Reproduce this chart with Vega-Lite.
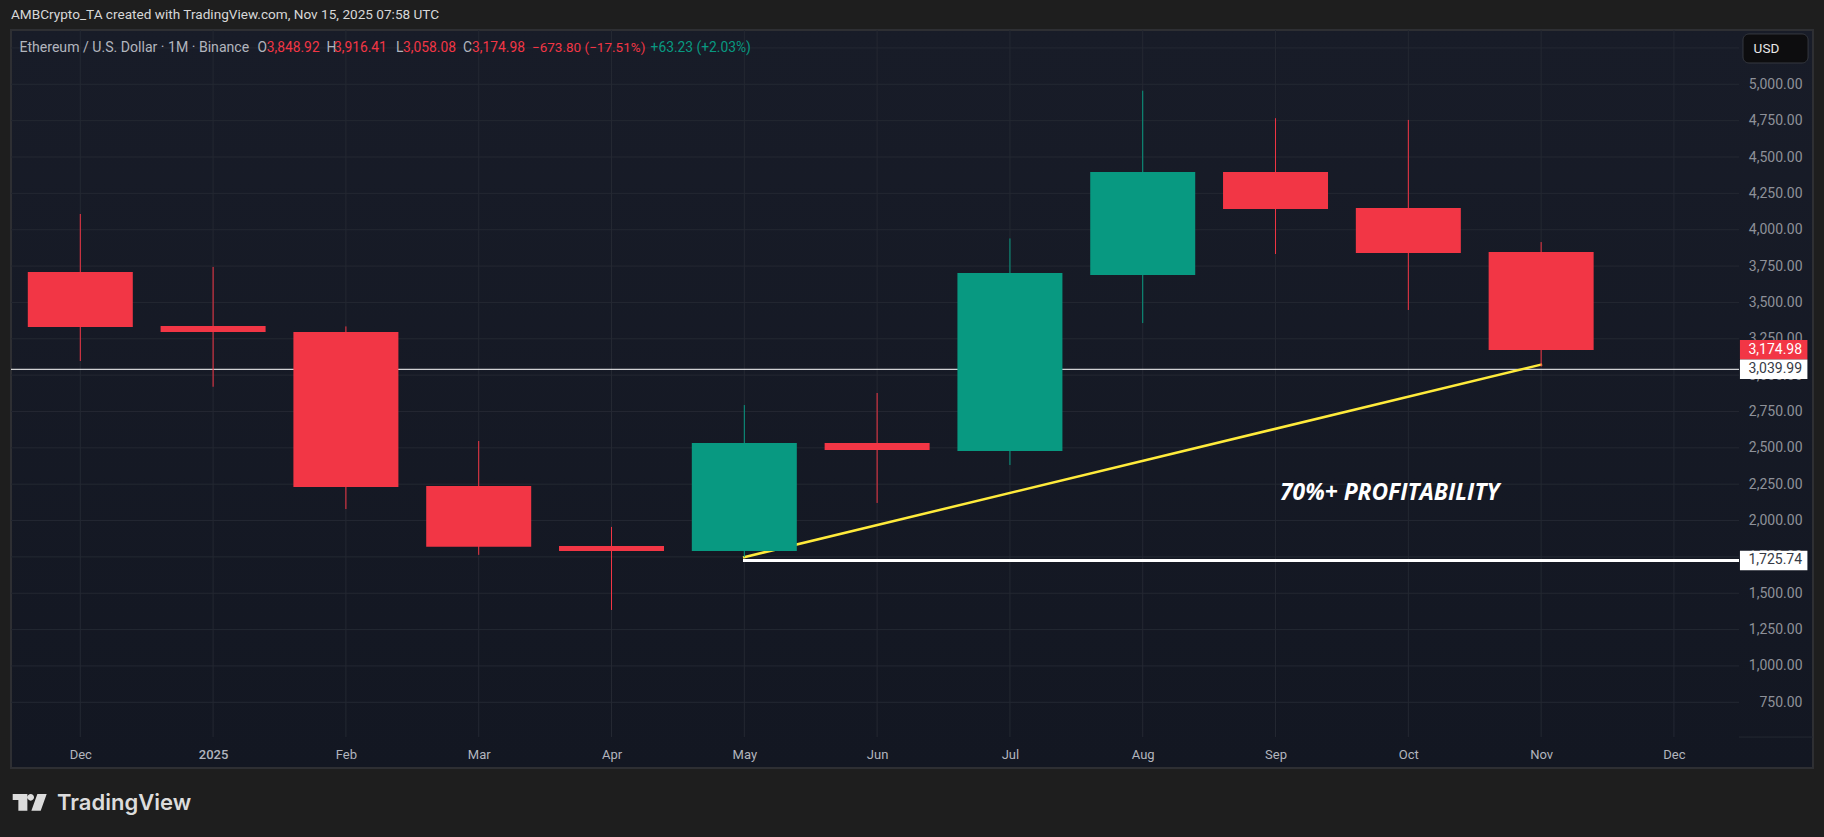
{
  "$schema": "https://vega.github.io/schema/vega-lite/v6.json",
  "width": 1802,
  "height": 738,
  "autosize": "none",
  "padding": {"left": 11, "top": 30, "right": 11, "bottom": 69},
  "background": "#1e1e1e",
  "title": {
    "text": "AMBCrypto_TA created with TradingView.com, Nov 15, 2025 07:58 UTC",
    "anchor": "start",
    "frame": "group",
    "offset": 8,
    "font": "Roboto",
    "fontSize": 13.6,
    "fontWeight": "normal",
    "color": "#d8d8d8"
  },
  "config": {
    "view": {
      "stroke": "#2e2f33",
      "strokeWidth": 2,
      "fill": {
        "gradient": "linear",
        "x1": 0, "y1": 0, "x2": 0, "y2": 1,
        "stops": [
          {"offset": 0, "color": "#181c28"},
          {"offset": 1, "color": "#131722"}
        ]
      }
    },
    "axis": {"grid": false, "domain": false, "ticks": false, "title": null, "labelOverlap": false, "labelFlush": false, "labelBound": false},
    "text": {"font": "Roboto", "fontSize": 13.8, "align": "left", "baseline": "middle"}
  },
  "datasets": {
    "candles": [
      {"i": 0, "month": "Dec 2024", "open": 3709, "high": 4108, "low": 3097, "close": 3331, "dir": "down"},
      {"i": 1, "month": "Jan 2025", "open": 3338, "high": 3744, "low": 2920, "close": 3297, "dir": "down"},
      {"i": 2, "month": "Feb 2025", "open": 3297, "high": 3335, "low": 2079, "close": 2231, "dir": "down"},
      {"i": 3, "month": "Mar 2025", "open": 2238, "high": 2547, "low": 1764, "close": 1819, "dir": "down"},
      {"i": 4, "month": "Apr 2025", "open": 1825, "high": 1956, "low": 1385, "close": 1790, "dir": "down"},
      {"i": 5, "month": "May 2025", "open": 1790, "high": 2794, "low": 1748, "close": 2533, "dir": "up"},
      {"i": 6, "month": "Jun 2025", "open": 2533, "high": 2877, "low": 2121, "close": 2485, "dir": "down"},
      {"i": 7, "month": "Jul 2025", "open": 2478, "high": 3940, "low": 2382, "close": 3702, "dir": "up"},
      {"i": 8, "month": "Aug 2025", "open": 3689, "high": 4956, "low": 3358, "close": 4397, "dir": "up"},
      {"i": 9, "month": "Sep 2025", "open": 4397, "high": 4767, "low": 3833, "close": 4142, "dir": "down"},
      {"i": 10, "month": "Oct 2025", "open": 4149, "high": 4755, "low": 3448, "close": 3840, "dir": "down"},
      {"i": 11, "month": "Nov 2025", "open": 3847, "high": 3915, "low": 3058, "close": 3173, "dir": "down"}
    ],
    "grid_h": [
      {"price": 750}, {"price": 1000}, {"price": 1250}, {"price": 1500}, {"price": 1750},
      {"price": 2000}, {"price": 2250}, {"price": 2500}, {"price": 2750}, {"price": 3000},
      {"price": 3250}, {"price": 3500}, {"price": 3750}, {"price": 4000}, {"price": 4250},
      {"price": 4500}, {"price": 4750}, {"price": 5000}, {"price": 5250}
    ],
    "grid_v": [
      {"i": 0}, {"i": 1}, {"i": 2}, {"i": 3}, {"i": 4}, {"i": 5}, {"i": 6},
      {"i": 7}, {"i": 8}, {"i": 9}, {"i": 10}, {"i": 11}, {"i": 12}
    ],
    "trend": [
      {"i": 4.99, "price": 1746},
      {"i": 11.007, "price": 3074}
    ],
    "tags": [
      {"price": 3174.98, "label": "3,174.98", "kind": "last"},
      {"price": 3039.99, "label": "3,039.99", "kind": "level"},
      {"price": 1725.74, "label": "1,725.74", "kind": "level"}
    ]
  },
  "data": {"name": "candles"},
  "layer": [
    {
      "data": {"name": "grid_h"},
      "mark": {"type": "rule", "color": "#242832", "strokeWidth": 1},
      "encoding": {
        "x": {
          "datum": -0.5218,
          "type": "quantitative",
          "scale": {"domain": [-0.5218, 13.0471], "nice": false, "zero": false, "padding": 0},
          "axis": {
            "values": [0, 1, 2, 3, 4, 5, 6, 7, 8, 9, 10, 11, 12],
            "labelExpr": "['Dec','2025','Feb','Mar','Apr','May','Jun','Jul','Aug','Sep','Oct','Nov','Dec'][datum.value]",
            "labelAlign": "center",
            "labelBaseline": "middle",
            "labelPadding": -14,
            "labelFont": "Roboto",
            "labelFontSize": 13,
            "labelFontWeight": {"expr": "datum.value == 1 ? 500 : 400"},
            "labelColor": "#b2b5be"
          }
        },
        "x2": {"datum": 12.49},
        "y": {
          "field": "price",
          "type": "quantitative",
          "scale": {"domain": [298.2, 5373.4], "nice": false, "zero": false, "padding": 0},
          "axis": {
            "orient": "right",
            "values": [750, 1000, 1250, 1500, 1750, 2000, 2250, 2500, 2750, 3000, 3250, 3500, 3750, 4000, 4250, 4500, 4750, 5000],
            "format": ",.2f",
            "labelAlign": "right",
            "labelBaseline": "middle",
            "labelPadding": -11,
            "labelFont": "Roboto",
            "labelFontSize": 14,
            "labelColor": "#8e9199"
          }
        }
      }
    },
    {
      "data": {"name": "grid_v"},
      "mark": {"type": "rule", "color": "#242832", "strokeWidth": 1},
      "encoding": {
        "x": {"field": "i", "type": "quantitative"},
        "y": {"datum": 511, "type": "quantitative"},
        "y2": {"datum": 5373.4}
      }
    },
    {
      "data": {"values": [{"price": 511}]},
      "mark": {"type": "rule", "color": "#242832", "strokeWidth": 1},
      "encoding": {
        "x": {"datum": 12.49, "type": "quantitative"},
        "x2": {"datum": 13.0471},
        "y": {"field": "price", "type": "quantitative"}
      }
    },
    {
      "data": {"values": [{"price": 3039.99}]},
      "mark": {"type": "rule", "color": "#ffffff", "strokeWidth": 1},
      "encoding": {
        "x": {"datum": -0.5218, "type": "quantitative"},
        "x2": {"datum": 12.49},
        "y": {"field": "price", "type": "quantitative"}
      }
    },
    {
      "data": {"values": [{"price": 1725.74}]},
      "mark": {"type": "rule", "color": "#ffffff", "strokeWidth": 3},
      "encoding": {
        "x": {"datum": 4.99, "type": "quantitative"},
        "x2": {"datum": 12.49},
        "y": {"field": "price", "type": "quantitative"}
      }
    },
    {
      "data": {"name": "trend"},
      "mark": {"type": "line", "color": "#ffeb3b", "strokeWidth": 2.5},
      "encoding": {
        "x": {"field": "i", "type": "quantitative"},
        "y": {"field": "price", "type": "quantitative"}
      }
    },
    {
      "mark": {"type": "rule", "strokeWidth": 1},
      "encoding": {
        "x": {"field": "i", "type": "quantitative"},
        "y": {"field": "low", "type": "quantitative"},
        "y2": {"field": "high"},
        "color": {
          "field": "dir",
          "type": "nominal",
          "legend": null,
          "scale": {"domain": ["up", "down"], "range": ["#089981", "#f23645"]}
        }
      }
    },
    {
      "mark": {"type": "bar", "size": 105},
      "encoding": {
        "x": {"field": "i", "type": "quantitative"},
        "y": {"field": "open", "type": "quantitative"},
        "y2": {"field": "close"},
        "color": {"field": "dir", "type": "nominal", "legend": null}
      }
    },
    {
      "data": {"name": "tags"},
      "transform": [{"filter": "datum.kind == 'last'"}],
      "mark": {"type": "rule", "color": "#f23645", "strokeWidth": 19.5, "strokeCap": "butt"},
      "encoding": {
        "x": {"datum": 12.497, "type": "quantitative"},
        "x2": {"datum": 13.005},
        "y": {"field": "price", "type": "quantitative"}
      }
    },
    {
      "data": {"name": "tags"},
      "transform": [{"filter": "datum.kind == 'level'"}],
      "mark": {"type": "rule", "color": "#ffffff", "strokeWidth": 19.5, "strokeCap": "butt"},
      "encoding": {
        "x": {"datum": 12.497, "type": "quantitative"},
        "x2": {"datum": 13.005},
        "y": {"field": "price", "type": "quantitative"}
      }
    },
    {
      "data": {"name": "tags"},
      "transform": [{"filter": "datum.kind == 'last'"}],
      "mark": {"type": "text", "align": "right", "fontSize": 14, "color": "#ffffff"},
      "encoding": {
        "x": {"datum": 12.965, "type": "quantitative"},
        "y": {"field": "price", "type": "quantitative"},
        "text": {"field": "label"}
      }
    },
    {
      "data": {"name": "tags"},
      "transform": [{"filter": "datum.kind == 'level'"}],
      "mark": {"type": "text", "align": "right", "fontSize": 14, "color": "#363a45"},
      "encoding": {
        "x": {"datum": 12.965, "type": "quantitative"},
        "y": {"field": "price", "type": "quantitative"},
        "text": {"field": "label"}
      }
    },
    {
      "data": {"values": [{"label": "USD"}]},
      "mark": {"type": "rect", "fill": "#0d0d0f", "stroke": "#363940", "strokeWidth": 1, "cornerRadius": 6},
      "encoding": {
        "x": {"datum": 12.52, "type": "quantitative"},
        "x2": {"datum": 13.01},
        "y": {"datum": 5346, "type": "quantitative"},
        "y2": {"datum": 5146.5}
      }
    },
    {
      "data": {"values": [{"label": "USD"}]},
      "mark": {"type": "text", "fontSize": 13.5, "color": "#e8e8e8"},
      "encoding": {
        "x": {"datum": 12.6, "type": "quantitative"},
        "y": {"datum": 5246, "type": "quantitative"},
        "text": {"field": "label"}
      }
    },
    {
      "data": {"values": [{"label": "Ethereum / U.S. Dollar · 1M · Binance"}]},
      "mark": {"type": "text", "fontSize": 14.1, "color": "#b2b5be"},
      "encoding": {
        "x": {"datum": -0.4586, "type": "quantitative"},
        "y": {"datum": 5251.7, "type": "quantitative"},
        "text": {"field": "label"}
      }
    },
    {
      "data": {"values": [{"label": "O"}]},
      "mark": {"type": "text", "color": "#b2b5be"},
      "encoding": {
        "x": {"datum": 1.335, "type": "quantitative"},
        "y": {"datum": 5251.7, "type": "quantitative"},
        "text": {"field": "label"}
      }
    },
    {
      "data": {"values": [{"label": "3,848.92"}]},
      "mark": {"type": "text", "color": "#f23645"},
      "encoding": {
        "x": {"datum": 1.404, "type": "quantitative"},
        "y": {"datum": 5251.7, "type": "quantitative"},
        "text": {"field": "label"}
      }
    },
    {
      "data": {"values": [{"label": "H"}]},
      "mark": {"type": "text", "color": "#b2b5be"},
      "encoding": {
        "x": {"datum": 1.854, "type": "quantitative"},
        "y": {"datum": 5251.7, "type": "quantitative"},
        "text": {"field": "label"}
      }
    },
    {
      "data": {"values": [{"label": "3,916.41"}]},
      "mark": {"type": "text", "color": "#f23645"},
      "encoding": {
        "x": {"datum": 1.91, "type": "quantitative"},
        "y": {"datum": 5251.7, "type": "quantitative"},
        "text": {"field": "label"}
      }
    },
    {
      "data": {"values": [{"label": "L"}]},
      "mark": {"type": "text", "color": "#b2b5be"},
      "encoding": {
        "x": {"datum": 2.377, "type": "quantitative"},
        "y": {"datum": 5251.7, "type": "quantitative"},
        "text": {"field": "label"}
      }
    },
    {
      "data": {"values": [{"label": "3,058.08"}]},
      "mark": {"type": "text", "color": "#f23645"},
      "encoding": {
        "x": {"datum": 2.43, "type": "quantitative"},
        "y": {"datum": 5251.7, "type": "quantitative"},
        "text": {"field": "label"}
      }
    },
    {
      "data": {"values": [{"label": "C"}]},
      "mark": {"type": "text", "color": "#b2b5be"},
      "encoding": {
        "x": {"datum": 2.882, "type": "quantitative"},
        "y": {"datum": 5251.7, "type": "quantitative"},
        "text": {"field": "label"}
      }
    },
    {
      "data": {"values": [{"label": "3,174.98"}]},
      "mark": {"type": "text", "color": "#f23645"},
      "encoding": {
        "x": {"datum": 2.95, "type": "quantitative"},
        "y": {"datum": 5251.7, "type": "quantitative"},
        "text": {"field": "label"}
      }
    },
    {
      "data": {"values": [{"label": "−673.80 (−17.51%)"}]},
      "mark": {"type": "text", "fontSize": 13.5, "color": "#f23645"},
      "encoding": {
        "x": {"datum": 3.401, "type": "quantitative"},
        "y": {"datum": 5251.7, "type": "quantitative"},
        "text": {"field": "label"}
      }
    },
    {
      "data": {"values": [{"label": "+63.23 (+2.03%)"}]},
      "mark": {"type": "text", "color": "#089981"},
      "encoding": {
        "x": {"datum": 4.294, "type": "quantitative"},
        "y": {"datum": 5251.7, "type": "quantitative"},
        "text": {"field": "label"}
      }
    },
    {
      "data": {"values": [{"label": "70%+ PROFITABILITY"}]},
      "mark": {"type": "text", "font": "Open Sans", "fontSize": 22.8, "fontWeight": "bold", "fontStyle": "italic", "color": "#ffffff"},
      "encoding": {
        "x": {"datum": 9.034, "type": "quantitative"},
        "y": {"datum": 2190, "type": "quantitative"},
        "text": {"field": "label"}
      }
    },
    {
      "data": {"values": [{"label": "TradingView"}]},
      "mark": {"type": "text", "font": "Inter", "fontSize": 22, "fontWeight": 600, "color": "#dcdcdc"},
      "encoding": {
        "x": {"datum": -0.175, "type": "quantitative"},
        "y": {"datum": 57.5, "type": "quantitative"},
        "text": {"field": "label"}
      }
    },
    {
      "data": {"values": [{"label": "logo"}]},
      "mark": {
        "type": "point",
        "filled": true,
        "opacity": 1,
        "color": "#dcdcdc",
        "size": 1156,
        "shape": "M-1 -.49 H-.137 V.49 H-.667 V-.137 H-1 Z M-.137 -.294 A.196 .196 0 1 0 .255 -.294 A.196 .196 0 1 0 -.137 -.294 Z M.451 -.49 H1 L.647 .49 H.098 Z"
      },
      "encoding": {
        "x": {"datum": -0.381, "type": "quantitative"},
        "y": {"datum": 62, "type": "quantitative"}
      }
    }
  ]
}
